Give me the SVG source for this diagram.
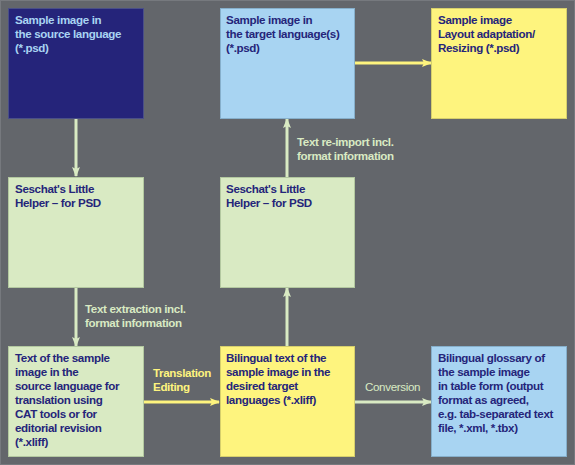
<svg xmlns="http://www.w3.org/2000/svg" width="575" height="465" viewBox="0 0 575 465">
<defs>
<style>
.t{font-family:"Liberation Sans",Arial,sans-serif;font-weight:bold;font-size:11.6px;letter-spacing:-0.35px;fill:#25257a}
.tl{fill:#a9d4f2}
.lab{font-family:"Liberation Sans",Arial,sans-serif;font-weight:bold;font-size:11.6px;letter-spacing:-0.35px}
.g{fill:#d9eac3}
.y{fill:#fef47e}
.cg{stroke:#d9eac3;stroke-width:3;fill:none}
.cy{stroke:#fef47e;stroke-width:3;fill:none}
</style>
<marker id="ag" viewBox="0 0 10 8" refX="9" refY="4" markerWidth="10" markerHeight="8" markerUnits="userSpaceOnUse" orient="auto"><path d="M0,0 L10,4 L0,8 L2,4 Z" fill="#d9eac3"/></marker>
<marker id="ay" viewBox="0 0 10 8" refX="9" refY="4" markerWidth="10" markerHeight="8" markerUnits="userSpaceOnUse" orient="auto"><path d="M0,0 L10,4 L0,8 L2,4 Z" fill="#fef47e"/></marker>
</defs>
<rect x="0" y="0" width="575" height="465" fill="#63666b"/>
<rect x="0.5" y="0.5" width="574" height="464" fill="none" stroke="#76797e"/>
<g id="connectors">
<line class="cg" x1="76" y1="118" x2="76" y2="176" marker-end="url(#ag)"/>
<line class="cg" x1="76" y1="287" x2="76" y2="346" marker-end="url(#ag)"/>
<line class="cg" x1="287" y1="347" x2="287" y2="288" marker-end="url(#ag)"/>
<line class="cg" x1="287" y1="177" x2="287" y2="119" marker-end="url(#ag)"/>
<line class="cy" x1="355" y1="63" x2="431" y2="63" marker-end="url(#ay)"/>
<line class="cy" x1="144" y1="402" x2="219" y2="402" marker-end="url(#ay)"/>
<line class="cg" x1="355" y1="402" x2="431" y2="402" marker-end="url(#ag)"/>
<text class="lab g" x="85" y="313">Text extraction incl.</text>
<text class="lab g" x="85" y="327">format information</text>
<text class="lab g" x="297" y="146">Text re-import incl.</text>
<text class="lab g" x="297" y="160">format information</text>
<text class="lab y" x="153" y="377">Translation</text>
<text class="lab y" x="153" y="391">Editing</text>
<text class="lab g" x="365" y="391" style="font-weight:normal">Conversion</text>
</g>
<g id="n1"><rect x="8.5" y="8.5" width="135" height="110" fill="#25247a" stroke="#4a4f88"/>
<text class="t tl" x="15" y="24">Sample image in</text><text class="t tl" x="15" y="38">the source language</text><text class="t tl" x="15" y="52">(*.psd)</text></g>
<g id="n2"><rect x="220.5" y="8.5" width="134" height="110" fill="#a8d4f2" stroke="#86afcb"/>
<text class="t" x="226" y="24">Sample image in</text><text class="t" x="226" y="38">the target language(s)</text><text class="t" x="226" y="52">(*.psd)</text></g>
<g id="n3"><rect x="431.5" y="8.5" width="135" height="110" fill="#fef47e" stroke="#d6cf6c"/>
<text class="t" x="438" y="24">Sample image</text><text class="t" x="438" y="38">Layout adaptation/</text><text class="t" x="438" y="52">Resizing (*.psd)</text></g>
<g id="n4"><rect x="8.5" y="177.5" width="135" height="110" fill="#d9eac3" stroke="#b3c8a0"/>
<text class="t" x="15" y="193">Seschat's Little</text><text class="t" x="15" y="207">Helper – for PSD</text></g>
<g id="n5"><rect x="220.5" y="177.5" width="134" height="110" fill="#d9eac3" stroke="#b3c8a0"/>
<text class="t" x="226" y="193">Seschat's Little</text><text class="t" x="226" y="207">Helper – for PSD</text></g>
<g id="n6"><rect x="8.5" y="346.5" width="135" height="110" fill="#d9eac3" stroke="#b3c8a0"/>
<text class="t" x="15" y="362">Text of the sample</text><text class="t" x="15" y="376">image in the</text><text class="t" x="15" y="390">source language for</text><text class="t" x="15" y="404">translation using</text><text class="t" x="15" y="418">CAT tools or for</text><text class="t" x="15" y="432">editorial revision</text><text class="t" x="15" y="446">(*.xliff)</text></g>
<g id="n7"><rect x="220.5" y="346.5" width="134" height="110" fill="#fef47e" stroke="#d6cf6c"/>
<text class="t" x="226" y="362">Bilingual text of the</text><text class="t" x="226" y="376">sample image in the</text><text class="t" x="226" y="390">desired target</text><text class="t" x="226" y="404">languages (*.xliff)</text></g>
<g id="n8"><rect x="431.5" y="346.5" width="135" height="110" fill="#a8d4f2" stroke="#86afcb"/>
<text class="t" x="438" y="362">Bilingual glossary of</text><text class="t" x="438" y="376">the sample image</text><text class="t" x="438" y="390">in table form (output</text><text class="t" x="438" y="404">format as agreed,</text><text class="t" x="438" y="418">e.g. tab-separated text</text><text class="t" x="438" y="432">file, *.xml, *.tbx)</text></g>
</svg>
